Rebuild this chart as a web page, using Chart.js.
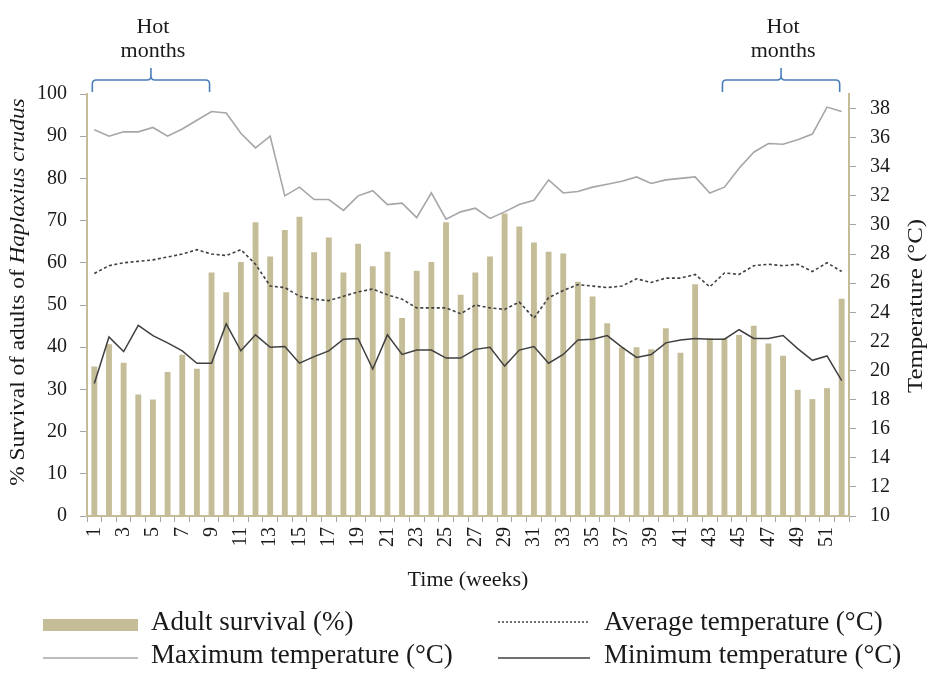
<!DOCTYPE html>
<html>
<head>
<meta charset="utf-8">
<script src="https://cdn.jsdelivr.net/npm/chart.js@4"></script>
<style>
html,body{margin:0;padding:0;background:#fff;}
canvas{display:block;}
</style>
</head>
<body>
<canvas id="c" width="930" height="673"></canvas>
<script>
const weeks = ['1','2','3','4','5','6','7','8','9','10','11','12','13','14','15','16','17','18','19','20','21','22','23','24','25','26','27','28','29','30','31','32','33','34','35','36','37','38','39','40','41','42','43','44','45','46','47','48','49','50','51','52'];
const survival = [35.4,40.7,36.3,28.8,27.6,34.1,38.2,34.9,57.7,53.0,60.2,69.6,61.5,67.8,70.9,62.5,66.0,57.7,64.5,59.2,62.6,46.9,58.1,60.2,69.6,52.4,57.7,61.5,71.7,68.6,64.8,62.6,62.2,55.5,52.0,45.7,39.9,40.0,39.5,44.5,38.7,54.9,42.1,42.1,42.9,45.1,40.9,38.0,29.9,27.7,30.3,51.5];
const maxTemp = [36.55,36.1,36.4,36.4,36.7,36.1,36.6,37.2,37.8,37.7,36.3,35.3,36.1,32.0,32.6,31.75,31.75,31.0,32.0,32.35,31.4,31.5,30.5,32.2,30.4,30.9,31.15,30.45,30.9,31.4,31.7,33.1,32.2,32.3,32.6,32.8,33.0,33.3,32.85,33.1,33.2,33.3,32.2,32.6,33.9,35.0,35.6,35.55,35.85,36.25,38.1,37.8];
const avgTemp = [26.67,27.2,27.4,27.5,27.6,27.8,28.0,28.3,28.0,27.9,28.3,27.3,25.8,25.7,25.1,24.9,24.8,25.1,25.4,25.6,25.2,24.9,24.3,24.3,24.3,23.9,24.5,24.3,24.2,24.7,23.6,25.0,25.5,25.9,25.8,25.7,25.8,26.3,26.05,26.35,26.35,26.6,25.75,26.7,26.6,27.2,27.3,27.2,27.3,26.8,27.4,26.8];
const minTemp = [19.1,22.3,21.3,23.1,22.4,21.9,21.35,20.5,20.5,23.2,21.35,22.45,21.6,21.65,20.5,20.95,21.35,22.15,22.2,20.1,22.45,21.1,21.4,21.4,20.85,20.85,21.45,21.6,20.3,21.4,21.65,20.5,21.1,22.1,22.15,22.4,21.6,20.9,21.1,21.9,22.1,22.2,22.15,22.15,22.8,22.2,22.2,22.4,21.5,20.7,21.0,19.3];
const survivalTicks = [0,10,20,30,40,50,60,70,80,90,100];
const tempTicks = [10,12,14,16,18,20,22,24,26,28,30,32,34,36,38];
const hotPeriods = [['1','9'],['44','52']];
const hotLabel = ['Hot','months'];
const legendLabels = ['Adult survival (%)','Average temperature (°C)','Maximum temperature (°C)','Minimum temperature (°C)'];

const SERIF = '"Liberation Serif","Times New Roman",serif';
const TAN = '#c4bd97';
const TXT = '#1a1a1a';

const overlay = {
  id: 'overlay',
  afterDraw(chart) {
    const ctx = chart.ctx;
    const x = chart.scales.x;
    ctx.save();
    // brackets
    ctx.strokeStyle = '#4a7ebb';
    ctx.lineWidth = 1.6;
    hotPeriods.forEach(p => {
      const x0 = x.getPixelForValue(weeks.indexOf(p[0])) - 2;
      const x1 = x.getPixelForValue(weeks.indexOf(p[1])) - 2;
      const xm = (x0 + x1) / 2;
      const yTop = 80, yEnd = 92, yPeak = 68, r = 4;
      ctx.beginPath();
      ctx.moveTo(x0, yEnd);
      ctx.lineTo(x0, yTop + r);
      ctx.quadraticCurveTo(x0, yTop, x0 + r, yTop);
      ctx.lineTo(xm - r, yTop);
      ctx.quadraticCurveTo(xm, yTop, xm, yTop - r);
      ctx.lineTo(xm, yPeak);
      ctx.moveTo(xm, yTop - r);
      ctx.quadraticCurveTo(xm, yTop, xm + r, yTop);
      ctx.lineTo(x1 - r, yTop);
      ctx.quadraticCurveTo(x1, yTop, x1, yTop + r);
      ctx.lineTo(x1, yEnd);
      ctx.stroke();
      ctx.fillStyle = TXT;
      ctx.font = '22px ' + SERIF;
      ctx.textAlign = 'center';
      ctx.textBaseline = 'alphabetic';
      ctx.fillText(hotLabel[0], xm + 2, 33);
      ctx.fillText(hotLabel[1], xm + 2, 57);
    });
    // x title
    ctx.fillStyle = TXT;
    ctx.font = '22px ' + SERIF;
    ctx.textAlign = 'center';
    ctx.textBaseline = 'middle';
    ctx.fillText('Time (weeks)', 468, 580);
    // right title
    ctx.save();
    ctx.font = '21px ' + SERIF;
    ctx.translate(916, 306);
    ctx.rotate(-Math.PI / 2);
    ctx.scale(1.18, 1);
    ctx.fillText('Temperature (°C)', 0, 0);
    ctx.restore();
    // left title with italic species
    const parts = [['% Survival of adults of ', 'normal'], ['Haplaxius crudus', 'italic']];
    let total = 0;
    parts.forEach(pt => { ctx.font = pt[1] + ' 22px ' + SERIF; total += ctx.measureText(pt[0]).width; });
    ctx.save();
    ctx.translate(18, 292);
    ctx.rotate(-Math.PI / 2);
    ctx.scale(1.06, 1);
    ctx.textAlign = 'left';
    let cx = -total / 2;
    parts.forEach(pt => { ctx.font = pt[1] + ' 22px ' + SERIF; ctx.fillText(pt[0], cx, 0); cx += ctx.measureText(pt[0]).width; });
    ctx.restore();
    // legend
    ctx.font = '27px ' + SERIF;
    ctx.textAlign = 'left';
    ctx.textBaseline = 'middle';
    const r1 = 625, r2 = 658;
    ctx.fillStyle = TAN;
    ctx.fillRect(43, r1 - 6, 95, 12);
    ctx.fillStyle = TXT;
    ctx.fillText(legendLabels[0], 151, r1 - 2);
    ctx.strokeStyle = '#404040';
    ctx.lineWidth = 1.3;
    ctx.setLineDash([2, 2]);
    ctx.beginPath(); ctx.moveTo(498, r1 - 3); ctx.lineTo(590, r1 - 3); ctx.stroke();
    ctx.setLineDash([]);
    ctx.fillText(legendLabels[1], 604, r1 - 2);
    ctx.strokeStyle = '#a6a6a6';
    ctx.beginPath(); ctx.moveTo(43, r2); ctx.lineTo(138, r2); ctx.stroke();
    ctx.fillText(legendLabels[2], 151, r2 - 2);
    ctx.strokeStyle = '#404040';
    ctx.beginPath(); ctx.moveTo(498, r2); ctx.lineTo(590, r2); ctx.stroke();
    ctx.fillText(legendLabels[3], 604, r2 - 2);
    ctx.restore();
  }
};

new Chart(document.getElementById('c'), {
  type: 'bar',
  data: {
    labels: weeks,
    datasets: [
      { type: 'line', label: legendLabels[2], data: maxTemp, yAxisID: 'y1', borderColor: '#a6a6a6', borderWidth: 1.6, pointRadius: 0, tension: 0, order: 1 },
      { type: 'line', label: legendLabels[1], data: avgTemp, yAxisID: 'y1', borderColor: '#404040', borderWidth: 1.6, borderDash: [3, 2.5], pointRadius: 0, tension: 0, order: 1 },
      { type: 'line', label: legendLabels[3], data: minTemp, yAxisID: 'y1', borderColor: '#404040', borderWidth: 1.5, pointRadius: 0, tension: 0, order: 1 },
      { type: 'bar', label: legendLabels[0], data: survival, yAxisID: 'y', backgroundColor: TAN, barPercentage: 0.4, categoryPercentage: 1, order: 10 }
    ]
  },
  options: {
    responsive: false,
    animation: false,
    devicePixelRatio: 1,
    layout: { padding: { top: 94, left: 0, right: 0, bottom: 0 } },
    plugins: { legend: { display: false }, tooltip: { enabled: false } },
    scales: {
      x: {
        grid: { display: true, drawOnChartArea: false, drawTicks: true, tickLength: 6, tickColor: '#a6a6a6', offset: true },
        border: { color: TAN, width: 2 },
        ticks: {
          autoSkip: false, minRotation: 90, maxRotation: 90, padding: 5,
          color: TXT, font: { family: SERIF, size: 20 },
          callback: (v, i) => (i % 2 === 0 ? weeks[i] : '')
        },
        afterFit: s => { s.height = 157; }
      },
      y: {
        position: 'left', min: 0, max: 100,
        grid: { drawOnChartArea: false, drawTicks: true, tickLength: 7, tickColor: '#a6a6a6' },
        border: { color: TAN, width: 2 },
        ticks: { padding: 13, color: TXT, font: { family: SERIF, size: 20 } },
        afterBuildTicks: s => { s.ticks = survivalTicks.map(v => ({ value: v })); },
        afterFit: s => { s.width = 87; }
      },
      y1: {
        position: 'right', min: 10, max: 39,
        grid: { drawOnChartArea: false, drawTicks: true, tickLength: 7, tickColor: '#a6a6a6' },
        border: { color: TAN, width: 2 },
        ticks: { padding: 14, color: TXT, font: { family: SERIF, size: 20 } },
        afterBuildTicks: s => { s.ticks = tempTicks.map(v => ({ value: v })); },
        afterFit: s => { s.width = 81; }
      }
    }
  },
  plugins: [overlay]
});
</script>
</body>
</html>
